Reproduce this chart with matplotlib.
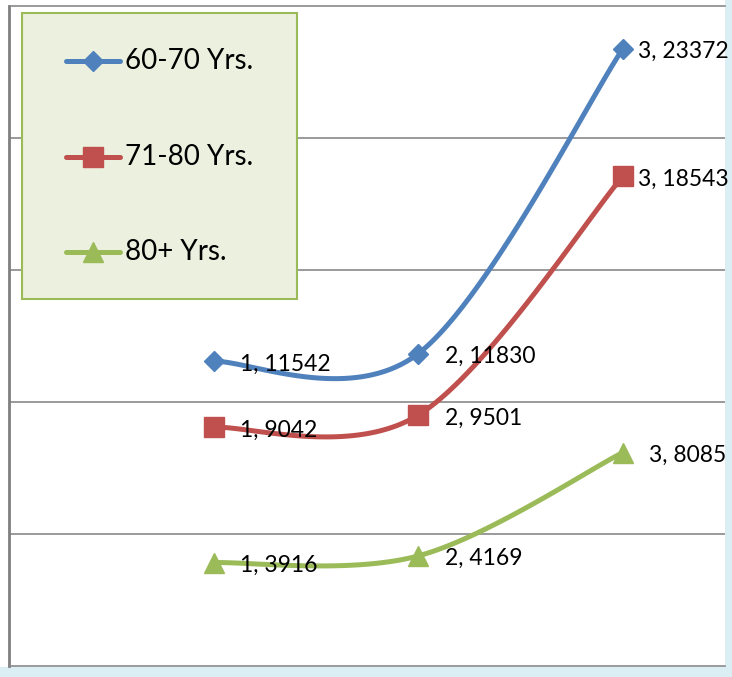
import matplotlib.pyplot as plt
import numpy as np
from matplotlib.patches import Rectangle
from matplotlib.lines import Line2D

# data
xs = [1, 2, 3]
series_names = ['60-70 Yrs.', '71-80 Yrs.', '80+ Yrs.']
vals_60_70 = [11542, 11830, 23372]
vals_71_80 = [9042, 9501, 18543]
vals_80_up = [3916, 4169, 8085]

colors = ['#4F81BD', '#C0504D', '#9BBB59']
markers = [('D', 10), ('s', 14), ('^', 14)]


def smooth(x, y, n=60):
    # excel style smoothed line: bezier segments, catmull-rom control points
    x = np.asarray(x, float)
    y = np.asarray(y, float)
    px = np.concatenate([[x[0]], x, [x[-1]]])
    py = np.concatenate([[y[0]], y, [y[-1]]])
    outx, outy = [], []
    t = np.linspace(0, 1, n)
    for i in range(len(x) - 1):
        p0 = np.array([px[i + 1], py[i + 1]])
        p3 = np.array([px[i + 2], py[i + 2]])
        c1 = p0 + (p3 - np.array([px[i], py[i]])) / 6
        c2 = p3 - (np.array([px[i + 3], py[i + 3]]) - p0) / 6
        b = ((1 - t) ** 3)[:, None] * p0 + (3 * (1 - t) ** 2 * t)[:, None] * c1 \
            + (3 * (1 - t) * t ** 2)[:, None] * c2 + (t ** 3)[:, None] * p3
        outx.extend(b[:, 0])
        outy.extend(b[:, 1])
    return outx, outy


plt.rcParams['font.family'] = ['Lato', 'DejaVu Sans']

W, H = 732, 677
fig = plt.figure(figsize=(W / 100, H / 100), dpi=100)
fig.patch.set_facecolor('#DAEEF3')
fig.patches.append(Rectangle((0, 1 - 667 / H), 725 / W, 667 / H, transform=fig.transFigure,
                             facecolor='white', edgecolor='none', zorder=-5))

ax = fig.add_axes([9 / W, (H - 666) / H, 716 / W, 660 / H])
ax.set_zorder(1)
ax.set_facecolor('white')
ax.set_xlim(0, 3.5)
ax.set_ylim(0, 25000)
ax.set_yticks([5000, 10000, 15000, 20000])
ax.set_xticks([])
ax.tick_params(left=False, labelleft=False)
ax.grid(axis='y', color='#898989', linewidth=1.2)
ax.set_axisbelow(True)
for s in ['top', 'bottom']:
    ax.spines[s].set_color('#898989')
    ax.spines[s].set_linewidth(1.2)
ax.spines['left'].set_color('#7F7F7F')
ax.spines['left'].set_linewidth(2)
ax.spines['right'].set_visible(False)

labels = []
all_vals = [vals_60_70, vals_71_80, vals_80_up]
for vals, c, (m, ms) in zip(all_vals, colors, markers):
    sx, sy = smooth(xs, vals)
    ax.plot(sx, sy, color=c, linewidth=3.6, solid_capstyle='round', zorder=3)
    ax.plot(xs, vals, linestyle='none', marker=m, markersize=ms, color=c, zorder=4)
    for x, v in zip(xs, vals):
        labels.append(ax.annotate('{}, {}'.format(x, v), (x, v), xytext=(19, -2),
                                  textcoords='offset points', fontsize=16.5, va='center',
                                  ha='left', color='black', zorder=5, annotation_clip=False))

# keep labels inside the chart area like excel does
fig.canvas.draw()
rend = fig.canvas.get_renderer()
for lab in labels:
    bb = lab.get_window_extent(rend)
    over = bb.x1 - 729
    if over > 0:
        ox, oy = lab.xyann
        lab.xyann = (ox - over * 72 / fig.dpi, oy)

# legend box drawn by hand to match the original placement
ax.add_patch(Rectangle((13 / 716, 1 - 293 / 660), 275 / 716, 286 / 660, transform=ax.transAxes,
                       facecolor='#EBF1DE', edgecolor='#9BBB59', linewidth=1.5, zorder=6))
rows = [61, 157, 252]
for name, c, (m, ms), ry in zip(series_names, colors, markers, rows):
    yy = 1 - (ry - 6) / 660
    ax.add_line(Line2D([57 / 716, 111 / 716], [yy, yy], transform=ax.transAxes, color=c,
                       linewidth=3.6, solid_capstyle='round', zorder=7))
    ax.add_line(Line2D([84 / 716], [yy], transform=ax.transAxes, color=c, marker=m,
                       markersize=ms, linestyle='none', zorder=8))
    ax.text(116 / 716, yy, name, transform=ax.transAxes, fontsize=20, va='center',
            ha='left', zorder=8)

fig.savefig('out.png', dpi=100)
